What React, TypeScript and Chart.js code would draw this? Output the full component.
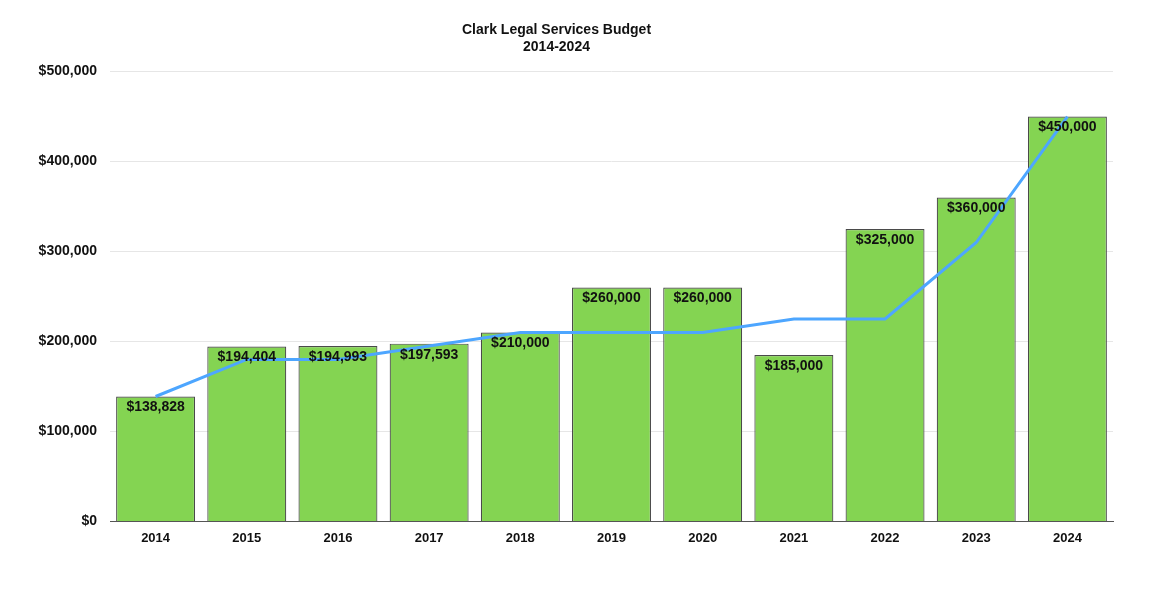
import React, { useEffect, useRef } from "react";
import { Chart, registerables } from "chart.js";

Chart.register(...registerables);

const categories = ["2014", "2015", "2016", "2017", "2018", "2019", "2020", "2021", "2022", "2023", "2024"];
const budgetValues = [138828, 194404, 194993, 197593, 210000, 260000, 260000, 185000, 325000, 360000, 450000];
const trendValues = [138828, 180000, 180000, 195000, 210000, 210000, 210000, 225000, 225000, 310000, 450000];
const titleLines = ["Clark Legal Services Budget", "2014-2024"];

const FONT = "'Liberation Sans', Arial, Helvetica, sans-serif";

const fmt = (v: number) => "$" + v.toLocaleString("en-US");

const valueLabelPlugin = {
  id: "valueLabels",
  afterDatasetsDraw(chart: any) {
    const meta = chart.getDatasetMeta(0);
    const ctx = chart.ctx;
    ctx.save();
    ctx.font = `bold 14px ${FONT}`;
    ctx.fillStyle = "#111";
    ctx.textAlign = "center";
    ctx.textBaseline = "middle";
    meta.data.forEach((bar: any, i: number) => {
      ctx.fillText(fmt(budgetValues[i]), bar.x, bar.y + 11);
    });
    ctx.restore();
  },
};

export default function App() {
  const ref = useRef<HTMLCanvasElement>(null);
  useEffect(() => {
    document.body.style.margin = "0";
    const chart = new Chart(ref.current!, {
      type: "bar",
      data: {
        labels: categories,
        datasets: [
          {
            type: "bar",
            data: budgetValues,
            backgroundColor: "#84D452",
            borderColor: "#4a4a4a",
            borderWidth: 1.2,
            barPercentage: 0.866,
            categoryPercentage: 1,
            order: 2,
          },
          {
            type: "line",
            data: trendValues,
            borderColor: "#4DA6FF",
            borderWidth: 3,
            pointRadius: 0,
            tension: 0,
            fill: false,
            order: 1,
          },
        ] as any,
      },
      options: {
        responsive: false,
        animation: false,
        layout: { padding: { top: 22, right: 37, bottom: 45, left: 0 } },
        plugins: {
          legend: { display: false },
          tooltip: { enabled: false },
          title: {
            display: true,
            text: titleLines,
            color: "#111",
            font: { family: FONT, size: 14, weight: "bold", lineHeight: 1.2 },
            padding: { top: 0, bottom: 16 },
          },
        },
        scales: {
          x: {
            grid: { display: false, drawTicks: false },
            border: { display: true, color: "#555", width: 1 },
            ticks: {
              color: "#111",
              font: { family: FONT, size: 13, weight: "bold" },
              padding: 9,
            },
          },
          y: {
            min: 0,
            max: 500000,
            afterFit: (scale: any) => {
              scale.width = 110;
            },
            grid: { color: "#e6e6e6", drawTicks: false },
            border: { display: false },
            ticks: {
              stepSize: 100000,
              color: "#111",
              font: { family: FONT, size: 14, weight: "bold" },
              padding: 13,
              callback: (v: any) => fmt(Number(v)),
            },
          },
        },
      },
      plugins: [valueLabelPlugin],
    });
    return () => chart.destroy();
  }, []);
  return <canvas ref={ref} width={1150} height={600} style={{ display: "block" }} />;
}
